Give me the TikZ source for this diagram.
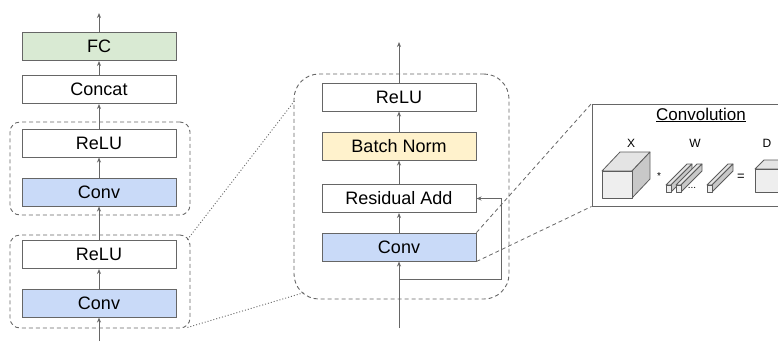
\documentclass[tikz,border=0pt]{standalone}
\usepackage{fontspec}
\setmainfont{Liberation Sans}
\usetikzlibrary{arrows.meta}
\definecolor{edge}{HTML}{666666}
\definecolor{fcgreen}{HTML}{D9EAD3}
\definecolor{convblue}{HTML}{C9DAF8}
\definecolor{bnyellow}{HTML}{FFF2CC}
\definecolor{facefront}{HTML}{EEEEEE}
\definecolor{facetop}{HTML}{E4E4E4}
\definecolor{faceside}{HTML}{C8C8C8}

% Prism: front face at (#1,#2) of size #3 x #4, receding by #5 right and #6 up
\newcommand\cubeblock[6]{%
  \filldraw[solidface,fill=facetop] (#1,#2) -- ({#1+#5},{#2-#6}) -- ({#1+#3+#5},{#2-#6}) -- ({#1+#3},#2) -- cycle;
  \filldraw[solidface,fill=faceside] ({#1+#3},#2) -- ({#1+#3+#5},{#2-#6}) -- ({#1+#3+#5},{#2+#4-#6}) -- ({#1+#3},{#2+#4}) -- cycle;
  \filldraw[solidface,fill=facefront] (#1,#2) rectangle ({#1+#3},{#2+#4});
}

\begin{document}
\begin{tikzpicture}[x=1pt,y=-1pt,
  layer/.style={draw=edge, line width=1pt, minimum width=154pt, minimum height=28pt,
    inner sep=0pt, font=\fontsize{18}{21}\selectfont},
  flow/.style={draw=edge, line width=0.9pt, -{Stealth[length=5pt,width=4pt]}},
  group/.style={draw=edge, line width=0.9pt, dash pattern=on 4pt off 3pt,
    rounded corners=10pt, inner sep=0pt},
  zoomdash/.style={draw=edge, line width=0.8pt, dash pattern=on 4pt off 3pt},
  zoomdot/.style={draw=edge, line width=0.9pt, dash pattern=on 1pt off 2pt},
  solidface/.style={draw=edge!90!black, line width=0.8pt, line join=round},
  small/.style={font=\fontsize{12}{14}\selectfont, inner sep=0pt},
]
\useasboundingbox (0,0) rectangle (778,341);
\clip (0,0) rectangle (778,341);

% ---- left: overall network ----
\node[layer, fill=fcgreen]  (fc)    at (99,46.5) {FC};
\node[layer]                (cat)   at (99,89.5) {Concat};
\node[layer]                (relua) at (99,143)  {ReLU};
\node[layer, fill=convblue] (conva) at (99,192)  {Conv};
\node[layer]                (relub) at (99,254.5) {ReLU};
\node[layer, fill=convblue] (convb) at (99,303)  {Conv};

\node[group, minimum width=180pt, minimum height=93pt] (ga) at (100,168.5) {};
\node[group, minimum width=180pt, minimum height=93pt] (gb) at (100,281.5) {};

\coordinate (lin)  at (99,341);
\coordinate (lout) at (99,13);
\draw[flow] (lin) -- (convb);
\draw[flow] (convb) -- (relub);
\draw[flow] (relub) -- (conva);
\draw[flow] (conva) -- (relua);
\draw[flow] (relua) -- (cat);
\draw[flow] (cat) -- (fc);
\draw[flow] (fc) -- (lout);

% ---- middle: residual block ----
\node[layer]                 (mrelu) at (399,97)    {ReLU};
\node[layer, fill=bnyellow]  (bn)    at (399,146)   {Batch Norm};
\node[layer]                 (radd)  at (399,198.5) {Residual Add};
\node[layer, fill=convblue]  (mconv) at (399,247)   {Conv};

\node[group, rounded corners=25pt, minimum width=215pt, minimum height=225pt] (gm) at (401.5,186.5) {};

\coordinate (min)   at (399,328);
\coordinate (split) at (399,279);
\coordinate (mout)  at (399,42);
\draw[flow] (min) -- (mconv);
\draw[flow] (mconv) -- (radd);
\draw[flow] (radd) -- (bn);
\draw[flow] (bn) -- (mrelu);
\draw[flow] (mrelu) -- (mout);
\draw[flow] (split) -- ++(102,0) |- (radd.east);

% zoom-in guides from the left block to the residual block
\draw[zoomdot] ([shift={(-3,5)}]gb.north east) -- ([shift={(2,26)}]gm.north west);
\draw[zoomdot] ([shift={(-3,-1)}]gb.south east) -- ([shift={(11,-7)}]gm.south west);

% ---- right: convolution detail ----
\node[draw=edge, line width=1pt, minimum width=228pt, minimum height=102pt, inner sep=0pt] (cbox) at (706,155) {};
\draw[zoomdash] (mconv.north east) -- (cbox.north west);
\draw[zoomdash] (mconv.south east) -- (cbox.south west);

\node[font=\fontsize{17}{20}\selectfont, inner sep=0pt] (ctitle) at (701,115) {\underline{Convolution}};
\node[small] (lx) at (631,143) {X};
\node[small] (lw) at (695,143) {W};
\node[small] (ld) at (767,143) {D};

\cubeblock{602}{171}{30}{27}{18}{19}
\node[small, font=\fontsize{10}{11}\selectfont] (star) at (659,176) {*};
\cubeblock{666}{185}{5}{7}{21}{21}
\cubeblock{676}{185}{5}{7}{21}{21}
\node[small, font=\fontsize{10}{11}\selectfont] (dots) at (692,188) {...};
\cubeblock{707}{185}{5}{7}{21}{21}
\node[small, font=\fontsize{13}{15}\selectfont] (eq) at (741,177) {=};
\cubeblock{755}{169}{30}{23}{9}{9}
\end{tikzpicture}
\end{document}
